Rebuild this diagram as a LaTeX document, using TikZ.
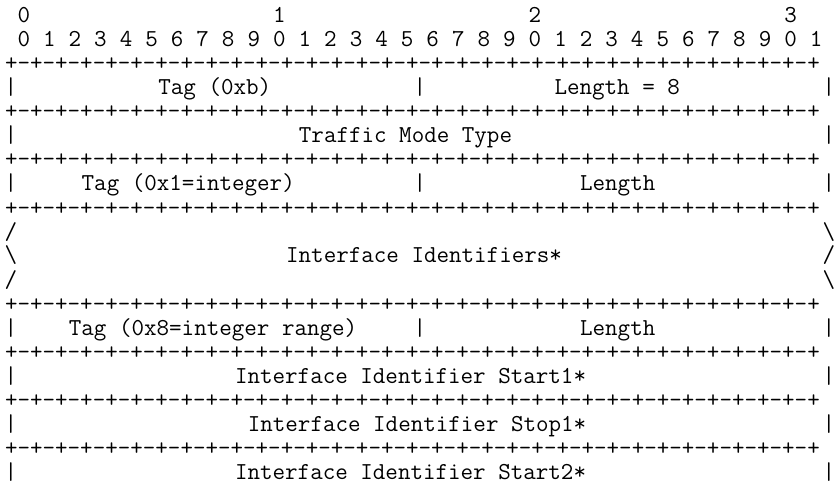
\documentclass[tikz,border=0pt]{standalone}
\usepackage{tikz}

\newcommand{\ruleline}{+-+-+-+-+-+-+-+-+-+-+-+-+-+-+-+-+-+-+-+-+-+-+-+-+-+-+-+-+-+-+-+-+}

\begin{document}
\begin{tikzpicture}[
  x=6.39pt, y=-12pt,
  every node/.style={inner sep=0pt, text=black, font=\ttfamily\fontsize{12.17}{12}\selectfont},
  glyph/.style={anchor=base},
  field/.style={anchor=base west}
]
\useasboundingbox (-5.5pt,11.5pt) rectangle (411.5pt,-231.5pt);

\foreach \t in {0,...,3}
  \node[glyph] (tens\t) at (20*\t+1, 0) {\t};
\foreach \i [evaluate=\i as \d using {int(mod(\i,10))}] in {0,...,31}
  \node[glyph] (bit\i) at (2*\i+1, 1) {\d};

\foreach \r in {2,4,6,8,12,14,16,18}
  \node[field] (rule\r) at (-0.5, \r) {\ruleline};

\foreach \r in {3,5,7,13,15,17,19} {
  \node[glyph] (lbar\r) at (0, \r) {|};
  \node[glyph] (rbar\r) at (64, \r) {|};
}
\foreach \r in {3,7,13}
  \node[glyph] (mbar\r) at (32, \r) {|};

\node[glyph] (lcut9)  at (0, 9)  {/};
\node[glyph] (rcut9)  at (64, 9) {\textbackslash};
\node[glyph] (lcut10) at (0, 10) {\textbackslash};
\node[glyph] (rcut10) at (64, 10) {/};
\node[glyph] (lcut11) at (0, 11) {/};
\node[glyph] (rcut11) at (64, 11) {\textbackslash};

\node[field] (tagxb)   at (11.5, 3)  {Tag (0xb)};
\node[field] (lenxb)   at (42.5, 3)  {Length = 8};
\node[field] (mode)    at (22.5, 5)  {Traffic Mode Type};
\node[field] (tagint)  at (5.5, 7)   {Tag (0x1=integer)};
\node[field] (lenint)  at (44.5, 7)  {Length};
\node[field] (ifids)   at (21.5, 10) {Interface Identifiers*};
\node[field] (tagrng)  at (4.5, 13)  {Tag (0x8=integer range)};
\node[field] (lenrng)  at (44.5, 13) {Length};
\node[field] (start1)  at (17.5, 15) {Interface Identifier Start1*};
\node[field] (stop1)   at (18.5, 17) {Interface Identifier Stop1*};
\node[field] (start2)  at (17.5, 19) {Interface Identifier Start2*};

\end{tikzpicture}
\end{document}
